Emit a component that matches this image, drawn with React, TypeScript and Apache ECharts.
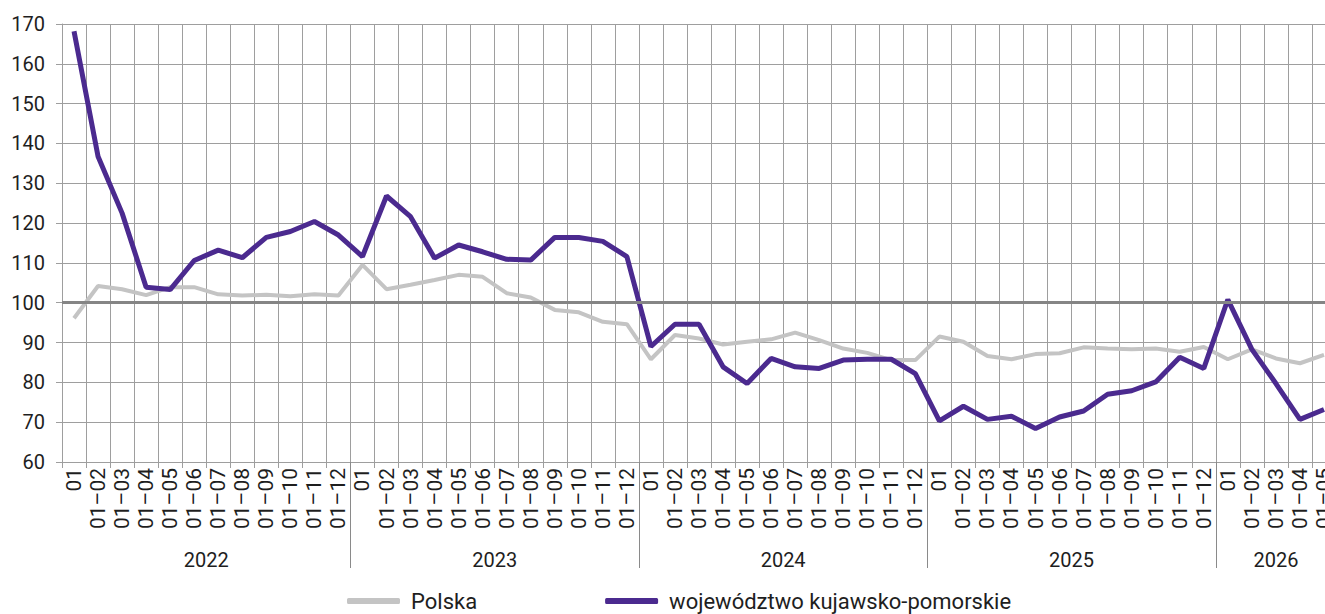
import React, { useEffect, useRef } from "react";
import * as echarts from "echarts";

const years = ["2022", "2023", "2024", "2025", "2026"];
const monthsPerYear = [12, 12, 12, 12, 5];
const monthLabels = [
  "01", "01–02", "01–03", "01–04", "01–05", "01–06",
  "01–07", "01–08", "01–09", "01–10", "01–11", "01–12",
];
const polska = [
  96.1, 104.2, 103.4, 101.9, 103.9, 103.9, 102.1, 101.8, 102.0, 101.6, 102.1, 101.8,
  109.5, 103.4, 104.5, 105.7, 107.0, 106.5, 102.4, 101.3, 98.2, 97.6, 95.2, 94.6,
  85.8, 91.9, 91.0, 89.5, 90.2, 90.8, 92.5, 90.6, 88.5, 87.4, 85.6, 85.6,
  91.5, 90.2, 86.6, 85.8, 87.1, 87.3, 88.8, 88.5, 88.3, 88.5, 87.7, 88.9,
  85.8, 88.3, 86.0, 84.8, 86.9,
];
const kujawsko = [
  168.2, 136.7, 122.5, 103.9, 103.3, 110.6, 113.2, 111.3, 116.4, 117.9, 120.4, 117.0,
  111.6, 126.8, 121.6, 111.2, 114.5, 112.8, 110.9, 110.7, 116.4, 116.4, 115.4, 111.6,
  89.0, 94.6, 94.6, 83.9, 79.7, 86.0, 83.9, 83.5, 85.6, 85.8, 85.8, 82.2,
  70.3, 74.0, 70.7, 71.5, 68.4, 71.3, 72.8, 77.0, 77.9, 80.1, 86.3, 83.5,
  100.8, 88.3, 79.7, 70.7, 73.2,
];
const seriesNames = ["Polska", "województwo kujawsko-pomorskie"];
const yMin = 60;
const yMax = 170;
const yStep = 10;
const referenceValue = 100;

const categories = years.flatMap((_, i) => monthLabels.slice(0, monthsPerYear[i]));
const yearAxisData: string[] = new Array(categories.length * 2 + 1).fill("");
const yearBoundaries = new Set<number>();
{
  let start = 0;
  years.forEach((y, i) => {
    const n = monthsPerYear[i];
    yearAxisData[start * 2 + n] = y;
    if (start > 0) yearBoundaries.add(start * 2);
    start += n;
  });
}

const FONT = "Roboto";
const GRID_COLOR = "#9e9e9e";
const TEXT_COLOR = "#1e1e1e";

export default function App() {
  const ref = useRef<HTMLDivElement>(null);
  useEffect(() => {
    if (!ref.current) return;
    const chart = echarts.init(ref.current, undefined, { renderer: "svg" });
    chart.setOption({
      animation: false,
      backgroundColor: "#ffffff",
      textStyle: { fontFamily: FONT },
      grid: {
        left: 62,
        top: 24,
        width: 1274,
        bottom: 152,
        containLabel: false,
        outerBoundsMode: "none",
      },
      legend: {
        left: 347,
        top: 590,
        padding: 0,
        itemWidth: 53,
        itemHeight: 6,
        itemGap: 128,
        icon: "roundRect",
        data: seriesNames,
        textStyle: { fontSize: 22, color: TEXT_COLOR, fontFamily: FONT, padding: [0, 0, 0, 6] },
      },
      xAxis: [
        {
          type: "category",
          data: categories,
          boundaryGap: true,
          axisLine: { show: true, lineStyle: { color: GRID_COLOR, width: 1 } },
          axisTick: { show: true, interval: 0, length: 6, lineStyle: { color: GRID_COLOR } },
          axisLabel: {
            interval: 0,
            rotate: 90,
            margin: 6,
            fontSize: 21,
            color: TEXT_COLOR,
            fontFamily: FONT,
          },
          splitLine: { show: true, interval: 0, lineStyle: { color: GRID_COLOR, width: 1 } },
        },
        {
          type: "category",
          data: yearAxisData,
          boundaryGap: false,
          position: "bottom",
          axisLine: { show: false },
          axisTick: {
            show: true,
            length: 106,
            interval: (i: number) => yearBoundaries.has(i),
            lineStyle: { color: "#8a8a8a", width: 1 },
          },
          axisLabel: {
            interval: (_: number, v: string) => v !== "",
            margin: 88,
            fontSize: 20,
            color: TEXT_COLOR,
            fontFamily: FONT,
          },
          splitLine: { show: false },
        },
      ],
      yAxis: {
        type: "value",
        min: yMin,
        max: yMax,
        interval: yStep,
        axisLine: { show: true, lineStyle: { color: GRID_COLOR } },
        axisTick: { show: true, length: 6, lineStyle: { color: GRID_COLOR } },
        axisLabel: { fontSize: 20, margin: 17, color: TEXT_COLOR, fontFamily: FONT },
        splitLine: { show: true, lineStyle: { color: GRID_COLOR, width: 1 } },
      },
      series: [
        {
          name: "ref",
          type: "line",
          data: [],
          z: 1,
          silent: true,
          markLine: {
            silent: true,
            symbol: "none",
            label: { show: false },
            lineStyle: { color: "#858585", width: 3, type: "solid" },
            data: [{ yAxis: referenceValue }],
          },
        },
        {
          name: seriesNames[0],
          type: "line",
          data: polska,
          symbol: "none",
          z: 2,
          color: "#c4c4c4",
          lineStyle: { color: "#c4c4c4", width: 4 },
        },
        {
          name: seriesNames[1],
          type: "line",
          data: kujawsko,
          symbol: "none",
          z: 3,
          color: "#4b2a8f",
          lineStyle: { color: "#4b2a8f", width: 5 },
        },
      ],
    });
    return () => chart.dispose();
  }, []);
  return (
    <div
      ref={ref}
      style={{ position: "fixed", left: 0, top: 0, width: 1325, height: 614, background: "#fff" }}
    />
  );
}
